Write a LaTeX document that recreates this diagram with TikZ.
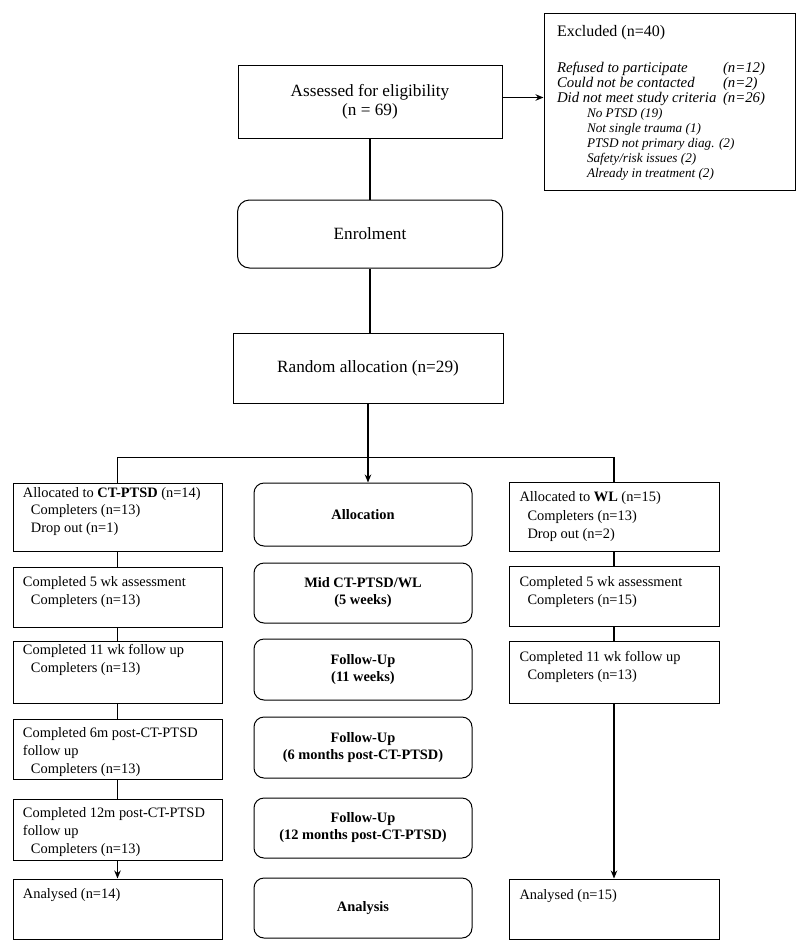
\documentclass[tikz,border=0pt]{standalone}
\usepackage{fontspec}
\setmainfont{Liberation Serif}
\usepackage{array}
\usetikzlibrary{arrows.meta}

% text at the top of a side box: height, top gap, text
\newcommand{\celltext}[3]{\parbox[c][#1pt][t]{189pt}{\vspace*{#2pt}#3}}
\newcommand{\ind}{\hspace*{8pt}}
\newcommand{\reasonline}[1]{\multicolumn{2}{@{\hspace{30pt}}l@{}}{\fontsize{13.2}{15}\selectfont\itshape #1}}

\begin{document}
\begin{tikzpicture}[x=1pt,y=-1pt,
  topbox/.style={draw, line width=1pt, align=center, font=\fontsize{17.2}{19}\selectfont},
  roundbox/.style={topbox, rounded corners=12pt},
  sidebox/.style={draw, line width=1pt, minimum width=209pt, inner xsep=10pt, inner ysep=3pt, font=\fontsize{14.4}{18}\selectfont},
  midbox/.style={draw, line width=1pt, rounded corners=10pt, minimum width=218pt, align=center, font=\fontsize{14.4}{17}\selectfont\bfseries},
  exbox/.style={draw, line width=1pt, minimum width=251pt, minimum height=177pt, inner sep=0pt, font=\fontsize{14.8}{15}\selectfont},
  link/.style={line width=1.5pt},
  arr/.style={link, -{Stealth[length=8pt,width=6.5pt]}}]
\useasboundingbox (0,0) rectangle (800,951);

% Top of the chart
\node[topbox, minimum width=264pt, minimum height=73pt] (assess) at (370,101.5) {Assessed for eligibility\\(n = 69)};
\node[roundbox, minimum width=265pt, minimum height=68pt] (enrol) at (370,234) {Enrolment};
\node[topbox, minimum width=270pt, minimum height=70pt] (random) at (368,368) {Random allocation (n=29)};

% Excluded
\node[exbox] (excl) at (669.5,101.5) {%
\begin{tabular}{@{}>{\itshape}p{166pt}@{}>{\itshape}p{59pt}@{}}
\multicolumn{2}{@{}l@{}}{\rule{0pt}{15.5pt}\upshape\fontsize{16}{15}\selectfont Excluded (n=40)}\\[20.5pt]
Refused to participate & (n=12)\\
Could not be contacted & (n=2)\\
Did not meet study criteria & (n=26)\\
\reasonline{No PTSD (19)}\\
\reasonline{Not single trauma (1)}\\
\reasonline{PTSD not primary diag. (2)}\\
\reasonline{Safety/risk issues (2)}\\
\reasonline{Already in treatment (2)}
\end{tabular}};

% Left column
\node[sidebox] (L1) at (117.5,517) {\celltext{62}{1}{Allocated to \textbf{CT-PTSD} (n=14)\\\ind Completers (n=13)\\\ind Drop out (n=1)}};
\node[sidebox] (L2) at (117.5,597) {\celltext{54}{6}{Completed 5 wk assessment\\\ind Completers (n=13)}};
\node[sidebox] (L3) at (117.5,672) {\celltext{56}{0}{Completed 11 wk follow up\\\ind Completers (n=13)}};
\node[sidebox] (L4) at (117.5,749) {\celltext{54}{5}{Completed 6m post-CT-PTSD\\follow up\\\ind Completers (n=13)}};
\node[sidebox] (L5) at (117.5,829.5) {\celltext{55}{5}{Completed 12m post-CT-PTSD\\follow up\\\ind Completers (n=13)}};
\node[sidebox] (L6) at (117.5,909) {\celltext{54}{6}{Analysed (n=14)}};

% Middle column
\node[midbox, minimum height=63pt] (M1) at (363,514.5) {Allocation};
\node[midbox, minimum height=60pt] (M2) at (363,593) {Mid CT-PTSD/WL\\(5 weeks)};
\node[midbox, minimum height=61pt] (M3) at (363,669.5) {Follow-Up\\(11 weeks)};
\node[midbox, minimum height=61pt] (M4) at (363,747.5) {Follow-Up\\(6 months post-CT-PTSD)};
\node[midbox, minimum height=60pt] (M5) at (363,828) {Follow-Up\\(12 months post-CT-PTSD)};
\node[midbox, minimum height=60pt] (M6) at (363,908) {Analysis};

% Right column
\node[sidebox, minimum width=210pt] (R1) at (614,516.5) {\celltext{63}{7}{Allocated to \textbf{WL} (n=15)\\\ind Completers (n=13)\\\ind Drop out (n=2)}};
\node[sidebox, minimum width=210pt] (R2) at (614,596) {\celltext{54}{7}{Completed 5 wk assessment\\\ind Completers (n=15)}};
\node[sidebox, minimum width=210pt] (R3) at (614,672) {\celltext{56}{7}{Completed 11 wk follow up\\\ind Completers (n=13)}};
\node[sidebox, minimum width=210pt] (R4) at (614,909) {\celltext{54}{7}{Analysed (n=15)}};

% Connectors
\draw[arr] ([yshift=4pt]assess.east) -- ([yshift=4pt]excl.west |- assess.east);
\draw[link] (assess.south) -- (assess.south |- enrol.north);
\draw[link] (enrol.south) -- (enrol.south |- random.north);
\draw[arr] (random.south) -- (random.south |- M1.north);
\draw[link] (L1.north) -- ++(0,-25) -| (R1.north);
\foreach \a/\b in {L1/L2,L2/L3,L3/L4,L4/L5,R1/R2,R2/R3}
  \draw[link] (\a) -- (\b);
\draw[arr] (L5.south) -- (L6.north);
\draw[arr] (R3.south) -- (R4.north);
\end{tikzpicture}
\end{document}
